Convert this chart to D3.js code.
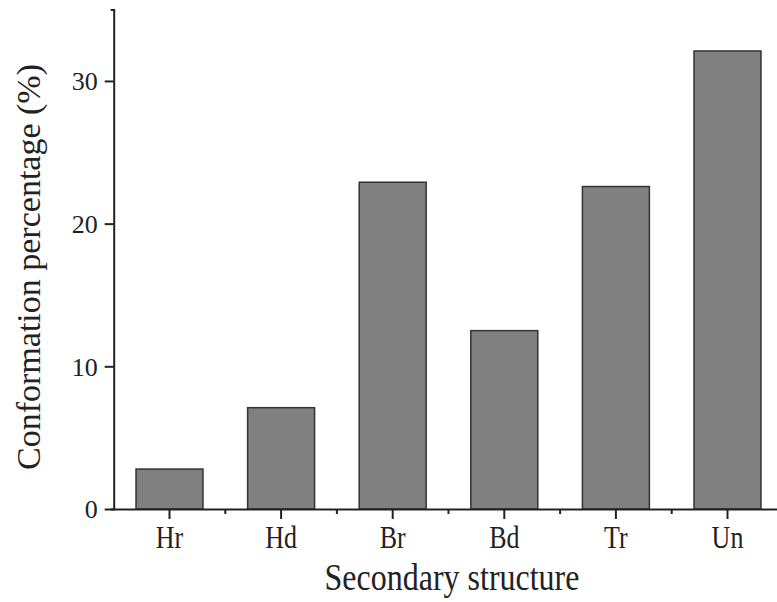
<!DOCTYPE html>
<html>
<head>
<meta charset="utf-8">
<script src="https://cdn.jsdelivr.net/npm/d3@7"></script>
<style>
  body { margin: 0; background: #fff; }
  text { font-family: "Liberation Serif", "Times New Roman", serif; fill: #222; }
</style>
</head>
<body>
<svg width="777" height="602"></svg>
<script>
let categories = ["Hr", "Hd", "Br", "Bd", "Tr", "Un"];
let values = [2.8, 7.1, 22.9, 12.5, 22.6, 32.1];
let yTicks = [0, 10, 20, 30];

let svg = d3.select("svg");
let plotLeft = 113.7, plotRight = 783.3, plotTop = 9.6, plotBottom = 509;
let stretch = 1.18; // the original type is a little taller than wide

let x = d3.scaleBand().domain(categories).range([plotLeft, plotRight])
    .paddingInner(0.4).paddingOuter(0.2);
let y = d3.scaleLinear().domain([0, 35]).range([plotBottom, plotTop]);

// bars
svg.append("g").selectAll("rect").data(categories).enter().append("rect")
    .attr("x", d => x(d))
    .attr("y", (d, i) => y(values[i]))
    .attr("width", x.bandwidth())
    .attr("height", (d, i) => y(0) - y(values[i]))
    .attr("fill", "#808080")
    .attr("stroke", "#333")
    .attr("stroke-width", 1.5);

// minor ticks between categories
svg.append("g").selectAll("line").data(categories).enter().append("line")
    .attr("x1", d => x(d) + x.bandwidth() / 2 + x.step() / 2)
    .attr("x2", d => x(d) + x.bandwidth() / 2 + x.step() / 2)
    .attr("y1", plotBottom).attr("y2", plotBottom + 5)
    .attr("stroke", "#222").attr("stroke-width", 2);

// axes
let xAxis = svg.append("g").attr("transform", "translate(0," + plotBottom + ")")
    .call(d3.axisBottom(x).tickSizeInner(10).tickSizeOuter(0).tickPadding(6));
let yAxis = svg.append("g").attr("transform", "translate(" + plotLeft + ",0)")
    .call(d3.axisLeft(y).tickValues(yTicks).tickSize(9).tickSizeOuter(3).tickPadding(7));

[xAxis, yAxis].forEach(g => {
    g.select(".domain").attr("stroke", "#222").attr("stroke-width", 2);
    g.selectAll(".tick line").attr("stroke", "#222").attr("stroke-width", 2);
    g.selectAll(".tick text").attr("font-size", 26)
        .style("font-family", "Liberation Serif").attr("fill", "#222");
});
xAxis.selectAll(".tick text").attr("dy", null)
    .attr("y", 39 / stretch)
    .attr("transform", "scale(1," + stretch + ")");
yAxis.selectAll(".tick text").attr("dy", "0.34em");

// axis titles
svg.append("text")
    .attr("transform", "translate(452,590) scale(1," + stretch + ")")
    .attr("text-anchor", "middle")
    .style("font-size", "32px")
    .text("Secondary structure");

svg.append("text")
    .attr("transform", "translate(40,267) rotate(-90)")
    .attr("text-anchor", "middle")
    .style("font-size", "34px")
    .text("Conformation percentage (%)");
</script>
</body>
</html>
